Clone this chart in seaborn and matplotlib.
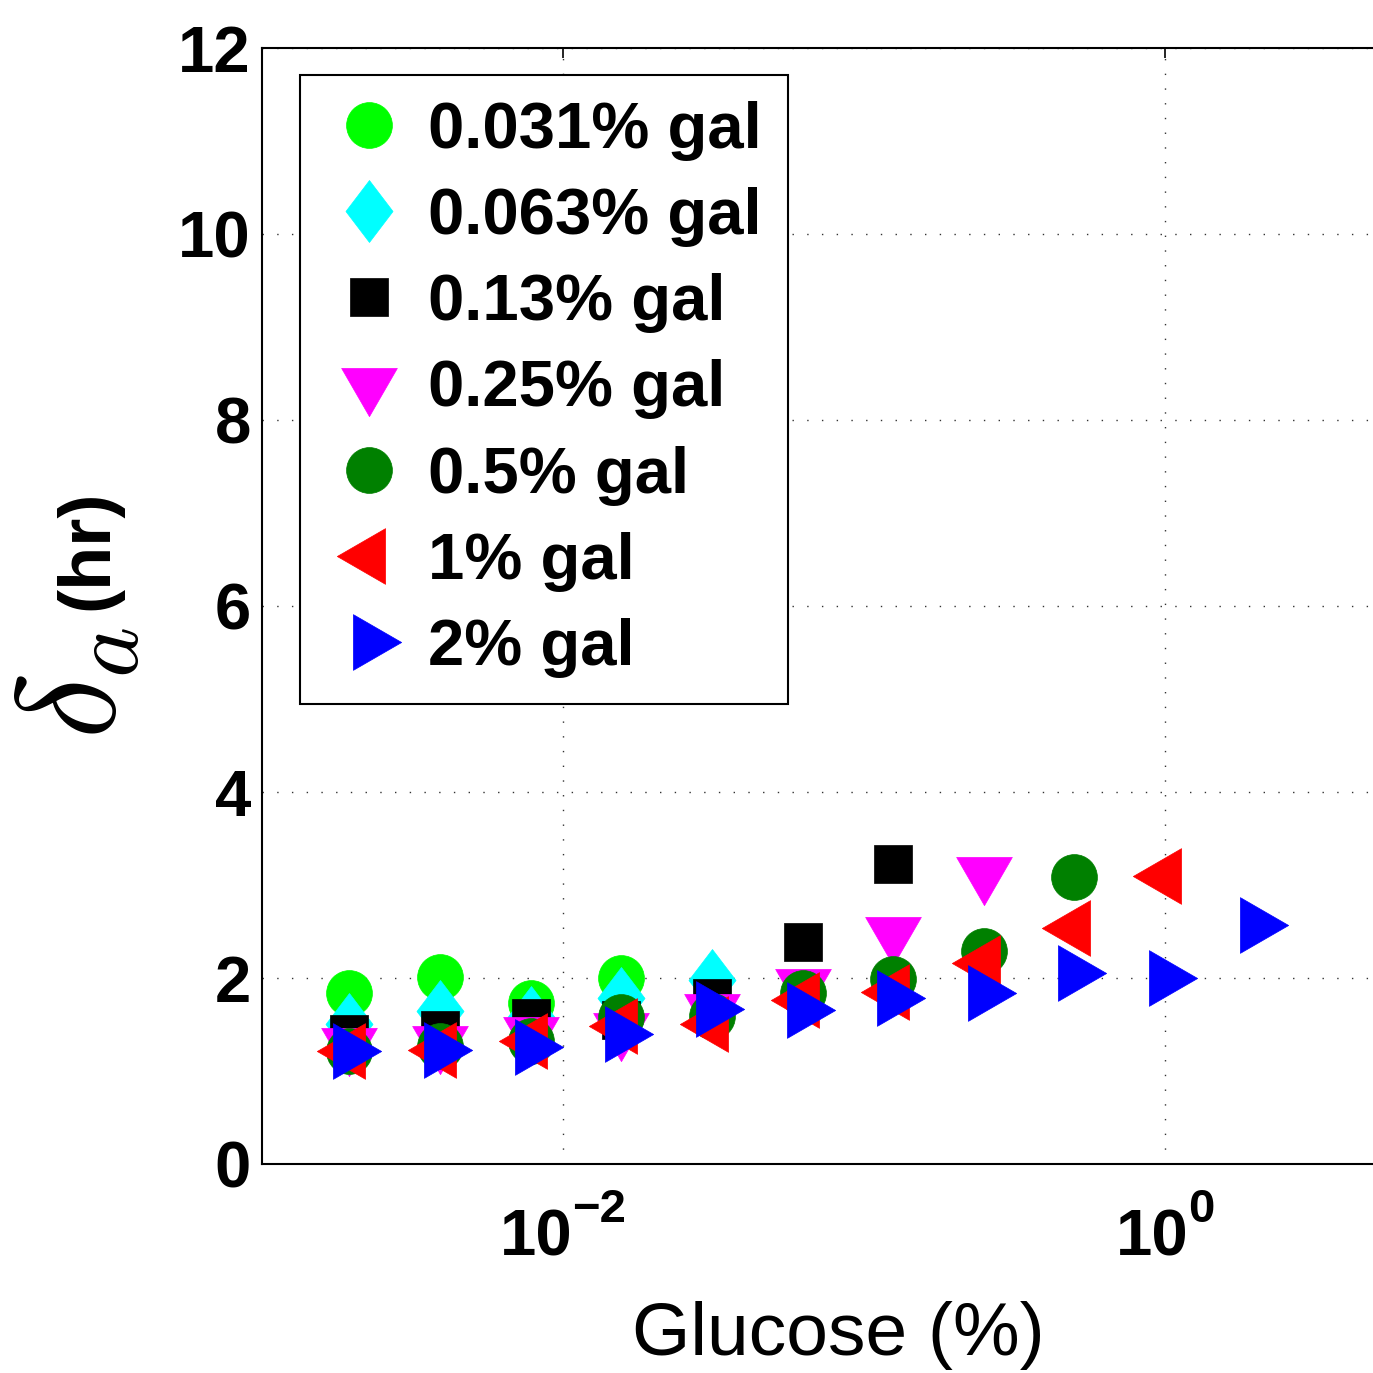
import matplotlib
matplotlib.use('Agg')
import matplotlib.pyplot as plt
from matplotlib.path import Path
from matplotlib.ticker import FixedLocator, NullFormatter, NullLocator
import pandas as pd
import seaborn as sns

# glucose concentrations (%), 2-fold dilution series
glucose = [0.00195, 0.0039, 0.0078, 0.0156, 0.03125, 0.0625, 0.125, 0.25, 0.5, 1.0, 2.0]

# delta_a (hr) for each galactose level
delta_031 = [1.84, 2.01, 1.73, 2.00]
delta_063 = [1.51, 1.65, 1.58, 1.79, 1.98]
delta_13 = [1.40, 1.44, 1.57, 1.55, 1.78, 2.39, 3.23]
delta_25 = [1.29, 1.31, 1.41, 1.45, 1.66, 1.92, 2.48, 3.13]
delta_5 = [1.22, 1.27, 1.32, 1.58, 1.59, 1.84, 1.99, 2.29, 3.09]
delta_1 = [1.21, 1.23, 1.32, 1.48, 1.51, 1.76, 1.85, 2.16, 2.54, 3.10]
delta_2 = [1.22, 1.23, 1.26, 1.40, 1.67, 1.66, 1.79, 1.84, 2.05, 2.00, 2.57]

labels = ['0.031% gal', '0.063% gal', '0.13% gal', '0.25% gal', '0.5% gal', '1% gal', '2% gal']
series = [delta_031, delta_063, delta_13, delta_25, delta_5, delta_1, delta_2]
colors = ['#00ff00', '#00ffff', '#000000', '#ff00ff', '#008000', '#ff0000', '#0000ff']

x_ticks = [1e-2, 1e0]
x_exps = ['\u22122', '0']
y_ticks = [0, 2, 4, 6, 8, 10, 12]

diamond = Path([(0, 1), (0.76, 0), (0, -1), (-0.76, 0), (0, 1)],
               [Path.MOVETO, Path.LINETO, Path.LINETO, Path.LINETO, Path.CLOSEPOLY])
markers = ['o', diamond, 's', (3, 0, 180), 'o', (3, 0, 90), (3, 0, 270)]
sizes = [1090, 1990, 735, 2143, 1090, 2143, 2143]

sns.set_theme(style='white')
plt.rcParams['font.family'] = ['Liberation Sans', 'DejaVu Sans']
plt.rcParams['font.weight'] = 'bold'
for key in ['text.color', 'axes.labelcolor', 'xtick.color', 'ytick.color']:
    plt.rcParams[key] = 'black'

W = 1373
fig = plt.figure(figsize=(13.73, 13.73), dpi=100)
ax = fig.add_axes([262 / W, 209 / W, 1204 / W, 1116 / W])

for vals, lab, col, mk, sz in zip(series, labels, colors, markers, sizes):
    df = pd.DataFrame({'glucose': glucose[:len(vals)], 'delta': vals})
    sns.scatterplot(data=df, x='glucose', y='delta', ax=ax, marker=mk, s=sz,
                    color=col, edgecolor=col, linewidth=0.5, label=lab, zorder=3)

ax.set_xscale('log')
ax.set_xlim(1e-3, 1e1)
ax.set_ylim(0, 12)
ax.xaxis.set_major_locator(FixedLocator(x_ticks))
ax.xaxis.set_major_formatter(NullFormatter())
ax.xaxis.set_minor_locator(NullLocator())
ax.set_yticks(y_ticks)

ax.tick_params(direction='in', length=7, width=1.2, color='black', top=True, right=True,
               labelsize=47, labelcolor='black')
ax.tick_params(axis='y', pad=8)
for lbl in ax.get_yticklabels():
    lbl.set_fontweight('bold')

ax.set_axisbelow(True)
ax.grid(True, which='major', linestyle=(0, (1, 9.6)), linewidth=1.0, color='#333333')
for sp in ax.spines.values():
    sp.set_color('black')
    sp.set_linewidth(1.5)

# x tick labels: "10" with raised exponent, centred on the tick as a unit
fig.canvas.draw()
r = fig.canvas.get_renderer()
for pos, e in zip(x_ticks, x_exps):
    base = ax.annotate('10', xy=(pos, 0), xycoords=('data', 'axes fraction'),
                       xytext=(0, -92), textcoords='offset pixels', ha='left',
                       va='baseline', fontsize=47, fontweight='bold')
    sup = ax.annotate(e, xy=(pos, 0), xycoords=('data', 'axes fraction'),
                      xytext=(0, -58), textcoords='offset pixels', ha='left',
                      va='baseline', fontsize=34, fontweight='bold')
    w1 = base.get_window_extent(r).width
    w2 = sup.get_window_extent(r).width
    left = -(w1 + w2) / 2
    base.xyann = (left, -92)
    sup.xyann = (left + w1, -58)

ax.set_xlabel('Glucose (%)', fontsize=54, fontweight='normal', color='black')
ax.xaxis.set_label_coords(0.4784, -0.1711)
ax.xaxis.label.set_verticalalignment('baseline')
ax.set_ylabel('')

fig.text(107 / W, 1 - 550 / W, '(hr)', rotation=90, rotation_mode='anchor',
         ha='center', va='baseline', fontsize=52, fontweight='bold', color='black')
fig.text(115 / W, 1 - 739 / W, r'$\delta_a$', rotation=90, rotation_mode='anchor',
         ha='left', va='baseline', fontsize=100, math_fontfamily='cm', color='black')

leg = ax.legend(loc='upper left', bbox_to_anchor=(300 / W, 1 - 75 / W),
                bbox_transform=fig.transFigure, borderaxespad=0,
                prop={'size': 47, 'weight': 'bold'}, scatterpoints=1,
                scatteryoffsets=[0.5], handlelength=1.32, handletextpad=0.24,
                borderpad=0.4, labelspacing=0.4, frameon=True, fancybox=False,
                framealpha=1, edgecolor='black')
leg.get_frame().set_linewidth(1.5)
for t in leg.get_texts():
    t.set_color('black')

fig.savefig('out.png', dpi=100)
